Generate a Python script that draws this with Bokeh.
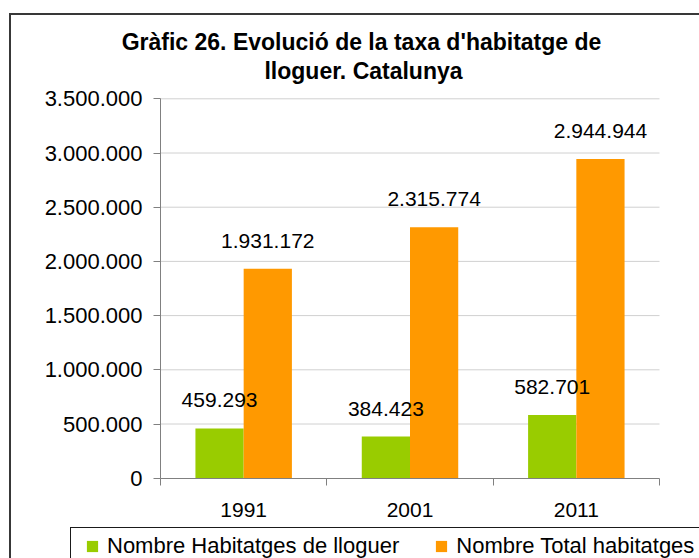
from bokeh.plotting import figure
from bokeh.models import (Range1d, FixedTicker, ColumnDataSource, Legend, LegendItem, Label)
from bokeh.transform import dodge
from bokeh.core.properties import value
from bokeh.embed import file_html
from bokeh.resources import INLINE

# ---- data ----
years = ["1991", "2001", "2011"]
rent_homes = [459293, 384423, 582701]
total_homes = [1931172, 2315774, 2944944]
rent_labels = ["459.293", "384.423", "582.701"]
total_labels = ["1.931.172", "2.315.774", "2.944.944"]
y_ticks = [0, 500000, 1000000, 1500000, 2000000, 2500000, 3000000, 3500000]
y_tick_labels = ["0", "500.000", "1.000.000", "1.500.000", "2.000.000",
                 "2.500.000", "3.000.000", "3.500.000"]
series_names = ["Nombre Habitatges de lloguer", "Nombre Total habitatges"]
title_lines = ["Gràfic 26. Evolució de la taxa d'habitatge de", "lloguer. Catalunya"]

FONT = "Liberation Sans"
GREEN = "#99CC00"
ORANGE = "#FF9900"
AXIS = "#808080"
W, H = 699, 558

# layout: the plotting frame covers the whole canvas; the axes sit at fixed places
PLOT_L, PLOT_R = 160, 659        # pixel extent of the category area
PLOT_T, PLOT_B = 98.3, 477.7     # pixel extent of the value area

centers = [i + 0.5 for i in range(len(years))]
edges = list(range(len(years) + 1))

xu = (edges[-1] - edges[0]) / (PLOT_R - PLOT_L)
yu = (y_ticks[-1] - y_ticks[0]) / (PLOT_B - PLOT_T)
x_range = Range1d(edges[0] - PLOT_L * xu, edges[-1] + (W - PLOT_R) * xu)
y_range = Range1d(y_ticks[0] - (H - PLOT_B) * yu, y_ticks[-1] + PLOT_T * yu)

src = ColumnDataSource(dict(xc=centers, rent=rent_homes, total=total_homes,
                            rent_lbl=rent_labels, total_lbl=total_labels))
grid_src = ColumnDataSource(dict(y=y_ticks[1:]))

p = figure(width=W, height=H, x_range=x_range, y_range=y_range, output_backend="svg",
           toolbar_location=None, min_border=0, min_border_left=0, min_border_right=0,
           min_border_top=0, min_border_bottom=0, outline_line_color=None,
           background_fill_color=None, border_fill_color=None)
p.title = None

# chart border and legend box drawn as background lines of the figure element
p.styles = {"background":
            "linear-gradient(#383838,#383838) 9px 13px / 800px 2px no-repeat, "
            "linear-gradient(#383838,#383838) 9px 13px / 2px 800px no-repeat, "
            "linear-gradient(#1a1a1a,#1a1a1a) 70px 527px / 800px 1px no-repeat, "
            "linear-gradient(#1a1a1a,#1a1a1a) 70px 527px / 1px 200px no-repeat, white"}

p.xgrid.visible = False
p.ygrid.visible = False

# horizontal grid lines over the category area
p.segment(x0=edges[0], x1=edges[-1], y0="y", y1="y", source=grid_src,
          line_color="#d0d0d0", line_width=1)

# bars
r1 = p.vbar(x=dodge("xc", -0.145), top="rent", width=0.29, source=src,
            fill_color=GREEN, line_color=None)
r2 = p.vbar(x=dodge("xc", 0.145), top="total", width=0.29, source=src,
            fill_color=ORANGE, line_color=None)

# value labels
p.text(x=dodge("xc", -0.145), y="rent", text="rent_lbl", source=src,
       text_align="center", text_baseline="middle", y_offset=-28,
       text_font=value(FONT), text_font_size="21px", text_color="black")
p.text(x=dodge("xc", 0.145), y="total", text="total_lbl", source=src,
       text_align="center", text_baseline="middle", y_offset=-28,
       text_font=value(FONT), text_font_size="21px", text_color="black")

# y axis
ya = p.yaxis[0]
ya.fixed_location = edges[0]
ya.bounds = (y_ticks[0], y_ticks[-1])
ya.ticker = FixedTicker(ticks=y_ticks)
ya.major_label_overrides = {t: l for t, l in zip(y_ticks, y_tick_labels)}
ya.major_label_text_font = FONT
ya.major_label_text_font_size = "22px"
ya.major_label_text_color = "black"
ya.axis_line_color = AXIS
ya.major_tick_line_color = AXIS
ya.major_tick_in = 0
ya.major_tick_out = 7
ya.minor_tick_line_color = None
ya.major_label_standoff = 11

# x axis: labels at slot centres, tick marks at slot edges
xa = p.xaxis[0]
xa.fixed_location = y_ticks[0]
xa.bounds = (edges[0], edges[-1])
xa.ticker = FixedTicker(ticks=centers, minor_ticks=edges)
xa.major_label_overrides = {c: y for c, y in zip(centers, years)}
xa.axis_line_color = AXIS
xa.major_tick_line_color = None
xa.major_tick_in = 0
xa.major_tick_out = 0
xa.minor_tick_line_color = AXIS
xa.minor_tick_in = 0
xa.minor_tick_out = 7
xa.major_label_text_font = FONT
xa.major_label_text_font_size = "21px"
xa.major_label_text_color = "black"
xa.major_label_standoff = 18

# title (two centred lines)
for line, cx, base in [(title_lines[0], 361, 41.7), (title_lines[1], 363, 70)]:
    p.add_layout(Label(x=cx, y=H - base, x_units="screen", y_units="screen", text=line,
                       text_align="center", text_baseline="alphabetic",
                       text_font=FONT, text_font_size="23px", text_font_style="bold",
                       text_color="black"))

# legend
legend = Legend(items=[LegendItem(label=series_names[0], renderers=[r1]),
                       LegendItem(label=series_names[1], renderers=[r2])],
                orientation="horizontal", location=(85, -1), margin=0,
                border_line_color=None, background_fill_alpha=0,
                padding=5, spacing=35, label_standoff=8, glyph_width=14, glyph_height=14,
                label_text_font=FONT, label_text_font_size="22px", label_text_color="black")
p.add_layout(legend)

open("out.html", "w").write(file_html(p, INLINE))
